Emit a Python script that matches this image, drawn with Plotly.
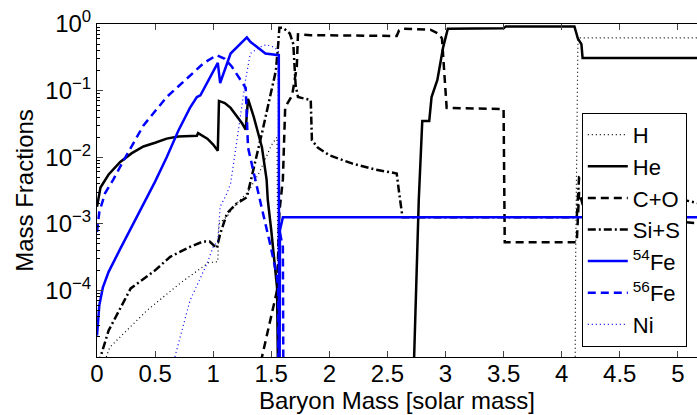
import plotly.graph_objects as go

# ---- data ----
TINY = 1e-8  # below plotted range

h_x = [0.08, 0.11, 0.43, 0.72, 0.96, 1.04, 1.05, 1.12, 1.2, 1.3, 1.4, 1.5, 1.55, 1.57, 4.11, 4.12, 4.14, 4.16, 5.2]
h_y = [1e-5, 1.4e-5, 5e-5, 1.3e-4, 2.6e-4, 2.7e-4, 1e-3, 1.3e-3, 2e-3, 3e-3, 6e-3, 1.5e-2, 2e-2, TINY, TINY, 2.7e-4, 0.6, 0.62, 0.62]

he_x = [0, 0.03, 0.1, 0.2, 0.3, 0.4, 0.5, 0.6, 0.7, 0.8, 0.86, 0.87, 0.95, 1.0, 1.04, 1.05, 1.1, 1.15, 1.2, 1.25, 1.28,
        1.3, 1.35, 1.42, 1.46, 1.47, 1.5, 1.55, 1.575, 2.72, 2.73, 2.77, 2.8, 2.86, 2.88, 2.93, 2.98, 3.02, 3.5, 3.52,
        4.11, 4.14, 4.17, 4.18, 5.2]
he_y = [1.8e-3, 3.5e-3, 5.5e-3, 8.5e-3, 0.0115, 0.0145, 0.0165, 0.019, 0.0205, 0.021, 0.021, 0.023, 0.019, 0.0155,
        0.0125, 0.07, 0.065, 0.055, 0.042, 0.032, 0.026, 0.075, 0.04, 0.014, 4.6e-3, 2.3e-3, 8e-4, 1.1e-4, TINY,
        TINY, 1e-5, 2.3e-3, 0.035, 0.035, 0.08, 0.145, 0.45, 0.85, 0.86, 0.92, 0.92, 0.6, 0.5, 0.31, 0.31]

co_x = [1.40, 1.42, 1.55, 1.57, 1.6, 1.62, 1.68, 1.72, 1.73, 1.84, 2.58, 2.6, 2.63, 2.87, 2.95, 2.97, 3.0, 3.01, 3.5,
        3.51, 4.13, 4.15, 4.2, 5.2]
co_y = [TINY, 1e-5, 1e-4, 1.5e-3, 4.6e-3, 0.056, 0.085, 0.23, 0.7, 0.68, 0.66, 0.8, 0.85, 0.82, 0.7, 0.6, 0.1, 0.055,
        0.053, 5.3e-4, 5.3e-4, 3e-3, 1.5e-3, 1e-3]

sis_x = [0.0, 0.03, 0.1, 0.29, 0.5, 0.63, 0.8, 0.91, 0.97, 1.03, 1.06, 1.1, 1.12, 1.2, 1.29, 1.42, 1.51, 1.54, 1.56,
         1.57, 1.6, 1.66, 1.69, 1.71, 1.73, 1.84, 1.85, 1.9, 2.0, 2.2, 2.4, 2.58, 2.6, 2.63, 4.13, 4.15, 5.2]
sis_y = [TINY, 1e-5, 2.5e-5, 1.07e-4, 2e-4, 3.2e-4, 4.5e-4, 5.4e-4, 5.4e-4, 4.3e-4, 7e-4, 1.2e-3, 1.45e-3, 2e-3,
         2.5e-3, 0.023, 0.11, 0.2, 0.5, 0.88, 0.88, 0.72, 0.5, 0.12, 0.08, 0.072, 0.018, 0.014, 0.0107, 0.008,
         0.0065, 0.0057, 3e-3, 1.25e-3, 1.25e-3, 5e-3, 2e-3]

fe54_x = [0, 0.02, 0.05, 0.1, 0.2, 0.3, 0.4, 0.5, 0.6, 0.7, 0.8, 0.86, 0.89, 1.04, 1.06, 1.15, 1.29, 1.32, 1.45,
          1.56, 1.565, 1.568, 1.575, 1.6, 5.2]
fe54_y = [2.1e-5, 6e-5, 1.1e-4, 1.9e-4, 4.2e-4, 9e-4, 2e-3, 4.3e-3, 1e-2, 0.025, 0.055, 0.08, 0.085, 0.26, 0.13,
          0.36, 0.63, 0.54, 0.36, 0.34, 0.34, TINY, 8e-4, 1.25e-3, 1.25e-3]

fe56_x = [0, 0.02, 0.07, 0.14, 0.23, 0.4, 0.6, 0.8, 0.92, 1.03, 1.1, 1.16, 1.28, 1.3, 1.36, 1.41, 1.49, 1.55, 1.56,
          1.565, 1.57, 1.6, 1.61]
fe56_y = [7.5e-4, 1.5e-3, 2.9e-3, 4.6e-3, 9e-3, 0.03, 0.08, 0.17, 0.26, 0.34, 0.3, 0.23, 0.11, 0.014, 4.6e-3, 2e-3,
          5e-4, 1.6e-4, 1e-4, TINY, 8e-4, 4.5e-4, TINY]

ni_x = [0.66, 0.67, 0.8, 0.95, 1.0, 1.04, 1.06, 1.12, 1.15, 1.2, 1.23, 1.28, 1.32, 1.4, 1.46, 1.52, 1.56, 1.57]
ni_y = [TINY, 1e-5, 7e-5, 2.6e-4, 4.5e-4, 5.5e-4, 1.8e-3, 2.9e-3, 4e-3, 0.015, 0.036, 0.15, 0.36, 0.45, 0.49, 0.45,
        0.4, TINY]

x_ticks = [0, 0.5, 1, 1.5, 2, 2.5, 3, 3.5, 4, 4.5, 5]
y_tickvals = [1e-4, 1e-3, 1e-2, 1e-1, 1e0]
y_ticktext = ["10<sup>−4</sup>", "10<sup>−3</sup>", "10<sup>−2</sup>", "10<sup>−1</sup>", "10<sup>0</sup>"]

BLACK = "#000000"
BLUE = "#0000ff"

series = [
    ("H", h_x, h_y, BLACK, 1.2, "1px,3px"),
    ("He", he_x, he_y, BLACK, 2.5, "solid"),
    ("C+O", co_x, co_y, BLACK, 2.5, "8px,5px"),
    ("Si+S", sis_x, sis_y, BLACK, 2.5, "8px,3px,2px,3px"),
    ("<sup>54</sup>Fe", fe54_x, fe54_y, BLUE, 2.5, "solid"),
    ("<sup>56</sup>Fe", fe56_x, fe56_y, BLUE, 2.5, "8px,5px"),
    ("Ni", ni_x, ni_y, BLUE, 1.2, "1px,3px"),
]

fig = go.Figure()
for name, xs, ys, col, w, dash in series:
    fig.add_trace(go.Scatter(x=xs, y=ys, mode="lines", name=name,
                             line=dict(color=col, width=w, dash=dash)))

minor_vals = [m * 10.0 ** e for e in range(-5, 0) for m in range(2, 10)]

fig.update_layout(
    width=697, height=415,
    margin=dict(l=97, r=0, t=24, b=58),
    paper_bgcolor="white", plot_bgcolor="white",
    font=dict(family="Liberation Sans, Arial, sans-serif", size=24, color="black"),
    showlegend=True,
    legend=dict(x=0.808, y=0.733, xanchor="left", yanchor="top",
                bgcolor="white", bordercolor="black", borderwidth=1,
                font=dict(size=22), tracegroupgap=0, itemwidth=40),
    xaxis=dict(range=[0, 5.165], tickvals=x_ticks, ticks="inside", ticklen=6,
               showline=True, linecolor="black", linewidth=1, mirror="ticks",
               showgrid=False, zeroline=False, ticklabelstandoff=-5,
               title=dict(text="Baryon Mass [solar mass]", standoff=0, font=dict(size=24)),
               tickfont=dict(size=24)),
    yaxis=dict(type="log", range=[-5, 0], tickvals=y_tickvals, ticktext=y_ticktext,
               ticks="inside", ticklen=6, showline=True, linecolor="black", linewidth=1,
               showgrid=False, zeroline=False,
               minor=dict(ticks="inside", ticklen=3, tickvals=minor_vals, tickcolor="black", showgrid=False),
               title=dict(text="Mass Fractions", standoff=4, font=dict(size=24)),
               tickfont=dict(size=24)),
)

fig.write_html("out.html")
